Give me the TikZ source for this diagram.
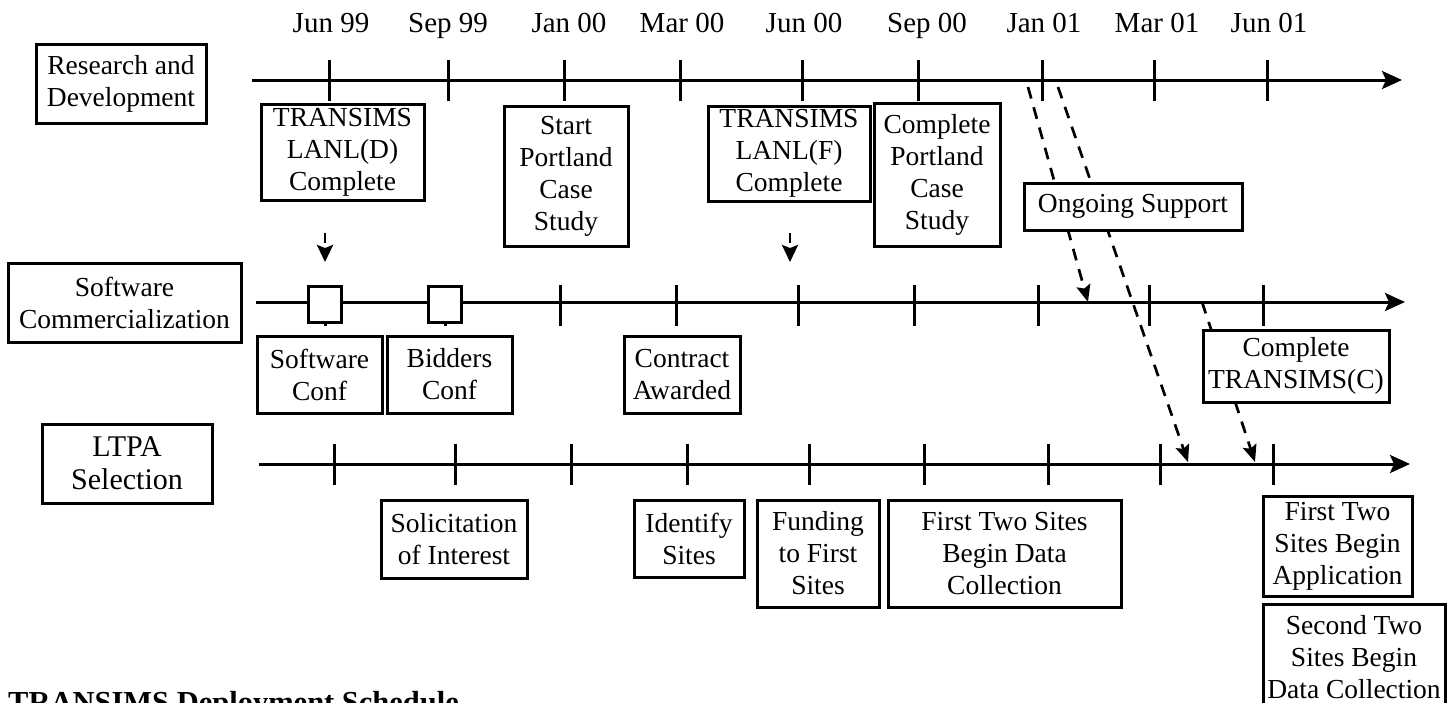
\documentclass[tikz,border=0pt]{standalone}
\usepackage{fontspec}
\setmainfont{Liberation Serif}
\usetikzlibrary{arrows.meta}
\tikzset{
  box/.style={draw, line width=3pt, fill=white, inner sep=0pt, align=center, font=\fontsize{27.5}{32}\selectfont},
  datelbl/.style={anchor=base, inner sep=0pt, font=\fontsize{29}{32}\selectfont},
  axisline/.style={line width=3pt, -{Stealth[length=20pt,width=18pt,inset=4pt]}},
  tickmark/.style={line width=3pt},
  sqmark/.style={draw, line width=3pt, fill=white},
  darrow/.style={line width=2.7pt, dash pattern=on 12pt off 9pt, -{Stealth[length=17pt,width=14pt,inset=3pt]}},
}
\begin{document}
\begin{tikzpicture}[x=1pt,y=-1pt]
\useasboundingbox (0,0) rectangle (1452,702);
\clip (0,0) rectangle (1452,702);

% timelines
\coordinate (t1s) at (252,80);  \coordinate (t1e) at (1402,80);
\coordinate (t2s) at (256,302); \coordinate (t2e) at (1405,302);
\coordinate (t3s) at (259,464); \coordinate (t3e) at (1410,464);
\draw[axisline] (t1s) -- (t1e);
\draw[axisline] (t2s) -- (t2e);
\draw[axisline] (t3s) -- (t3e);

\foreach \x in {329,448,564,680,802,918,1042,1154,1267}
  \draw[tickmark] (\x,59.5) -- (\x,100.5);
\foreach \x in {325,445,560,676,798,914,1038,1149,1263}
  \draw[tickmark] (\x,285) -- (\x,326);
\foreach \x in {334,455,571,687,809,924,1048,1160,1273}
  \draw[tickmark] (\x,443.5) -- (\x,484.5);

% small squares on the second line
\draw[sqmark] (308.5,286) rectangle (341.5,322);
\draw[sqmark] (428.5,286) rectangle (461.5,322);

% date labels
\node[datelbl] (d1) at (331,32) {Jun 99};
\node[datelbl] (d2) at (448,32) {Sep 99};
\node[datelbl] (d3) at (569,32) {Jan 00};
\node[datelbl] (d4) at (682,32) {Mar 00};
\node[datelbl] (d5) at (804,32) {Jun 00};
\node[datelbl] (d6) at (927,32) {Sep 00};
\node[datelbl] (d7) at (1044,32) {Jan 01};
\node[datelbl] (d8) at (1157,32) {Mar 01};
\node[datelbl] (d9) at (1269,32) {Jun 01};

% dashed arrows (behind boxes)
\coordinate (o1s) at (1028,87);  \coordinate (o1e) at (1088,302);
\coordinate (o2s) at (1058,87);  \coordinate (o2e) at (1188,462);
\coordinate (c1s) at (1202,302); \coordinate (c1e) at (1255,462);
\draw[darrow] (o1s) -- (o1e);
\draw[darrow] (o2s) -- (o2e);
\draw[darrow] (c1s) -- (c1e);

% row headers
\node[box, minimum width=170pt, minimum height=79pt] (rd) at (121,83.5) {Research and\\Development};
\node[box, minimum width=233pt, minimum height=79pt] (sc) at (124.5,302.5) {Software\\Commercialization};
\node[box, minimum width=170pt, minimum height=79pt, font=\fontsize{30}{33}\selectfont] (ltpa) at (127,463.5) {LTPA\\Selection};

% research and development events
\node[box, minimum width=163pt, minimum height=96pt] (lanlD) at (342.5,152) {TRANSIMS\\LANL(D)\\Complete};
\node[box, minimum width=124pt, minimum height=140pt] (startP) at (566,176) {Start\\Portland\\Case\\Study};
\node[box, minimum width=162pt, minimum height=95pt] (lanlF) at (789,153.5) {TRANSIMS\\LANL(F)\\Complete};
\node[box, minimum width=126pt, minimum height=143pt] (compP) at (937,174.5) {Complete\\Portland\\Case\\Study};
\node[box, minimum width=218pt, minimum height=47pt] (ongoing) at (1133,206.5) {Ongoing Support};

% software commercialization events
\node[box, minimum width=125pt, minimum height=77pt] (swconf) at (319.5,374.5) {Software\\Conf};
\node[box, minimum width=125pt, minimum height=77pt] (bidders) at (449.5,374.5) {Bidders\\Conf};
\node[box, minimum width=116pt, minimum height=77pt] (contract) at (682,374.5) {Contract\\Awarded};
\node[box, minimum width=186pt, minimum height=72pt] (compC) at (1296,366) {Complete\\TRANSIMS(C)};

% LTPA events
\node[box, minimum width=146pt, minimum height=78pt] (solic) at (454,539) {Solicitation\\of Interest};
\node[box, minimum width=110pt, minimum height=77pt] (identify) at (689,538.5) {Identify\\Sites};
\node[box, minimum width=122pt, minimum height=107pt] (funding) at (818,553.5) {Funding\\to First\\Sites};
\node[box, minimum width=233pt, minimum height=107pt] (firsttwo) at (1004.5,553.5) {First Two Sites\\Begin Data\\Collection};
\node[box, minimum width=149pt, minimum height=100pt] (firstapp) at (1337.5,546) {First Two\\Sites Begin\\Application};
\node[box, minimum width=182pt, minimum height=107pt] (secondtwo) at (1354,657.5) {Second Two\\Sites Begin\\Data Collection};

% small arrows
\coordinate (a1s) at (325,233); \coordinate (a1e) at (325,262);
\coordinate (a2s) at (790,233); \coordinate (a2e) at (790,262);
\draw[darrow, dash pattern=on 10pt off 6pt, -{Stealth[length=17pt,width=16pt,inset=3pt]}] (a1s) -- (a1e);
\draw[darrow, dash pattern=on 10pt off 6pt, -{Stealth[length=17pt,width=16pt,inset=3pt]}] (a2s) -- (a2e);

% caption (cut by the lower edge, as in the reference)
\node[anchor=base west, inner sep=0pt, font=\bfseries\fontsize{30.5}{34}\selectfont] (caption) at (8,712) {TRANSIMS Deployment Schedule};
\end{tikzpicture}
\end{document}
